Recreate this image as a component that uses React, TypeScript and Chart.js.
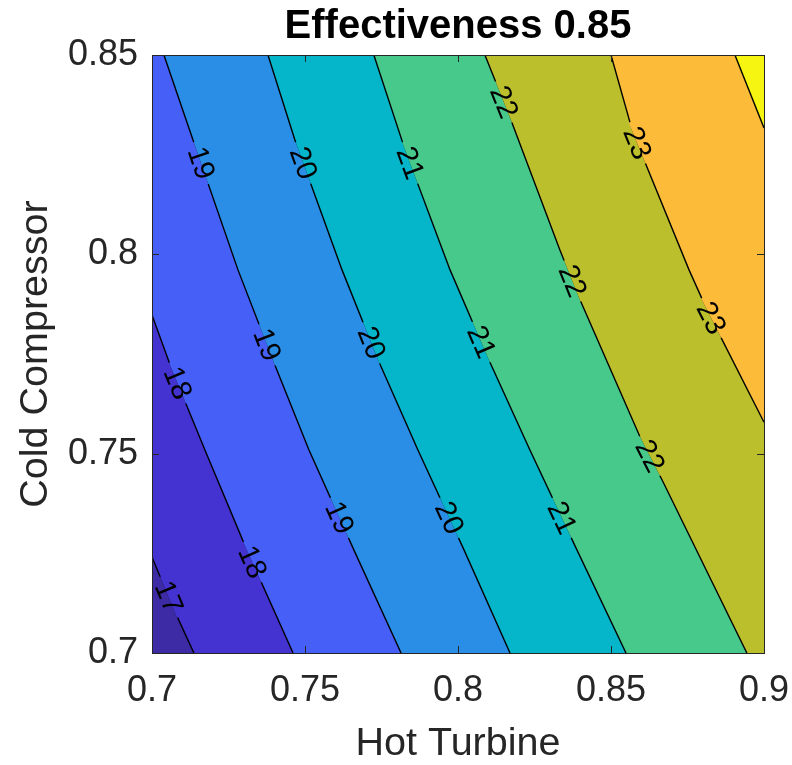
import React, { useEffect, useRef } from 'react';
import { Chart, registerables } from 'chart.js';

Chart.register(...registerables);

// ---------- data ----------
const X_MIN = 0.7;
const X_MAX = 0.9;
const Y_MIN = 0.7;
const Y_MAX = 0.85;

const X_TICKS = [0.7, 0.75, 0.8, 0.85, 0.9];
const X_TICK_LABELS = ['0.7', '0.75', '0.8', '0.85', '0.9'];
const Y_TICKS = [0.7, 0.75, 0.8, 0.85];
const Y_TICK_LABELS = ['0.7', '0.75', '0.8', '0.85'];

const TITLE = 'Effectiveness 0.85';
const X_TITLE = 'Hot Turbine';
const Y_TITLE = 'Cold Compressor';

const LEVELS = [17, 18, 19, 20, 21, 22, 23, 24];

// contour lines, [Hot Turbine, Cold Compressor]
const C17 = [[0.7, 0.7241], [0.7065, 0.712], [0.7137, 0.7]];
const C18 = [[0.7, 0.7848], [0.7062, 0.7717], [0.7173, 0.7509], [0.731, 0.7258], [0.7461, 0.7]];
const C19 = [[0.7039, 0.85], [0.7134, 0.8287], [0.7281, 0.7961], [0.7395, 0.7735], [0.7513, 0.7509], [0.766, 0.7258], [0.7814, 0.7]];
const C20 = [[0.7379, 0.85], [0.7467, 0.8287], [0.7621, 0.7961], [0.7739, 0.7735], [0.7869, 0.7509], [0.802, 0.7258], [0.817, 0.7]];
const C21 = [[0.7725, 0.85], [0.7827, 0.8262], [0.7974, 0.7961], [0.8101, 0.7735], [0.8235, 0.7509], [0.8389, 0.7258], [0.8549, 0.7]];
const C22 = [[0.8088, 0.85], [0.8173, 0.8337], [0.8333, 0.8011], [0.8389, 0.7903], [0.8595, 0.7542], [0.8667, 0.7434], [0.8944, 0.7]];
const C23 = [[0.85, 0.85], [0.8572, 0.8304], [0.8755, 0.7961], [0.8814, 0.786], [0.9, 0.7579]];
const C24 = [[0.8905, 0.85], [0.9, 0.8317]];
const CONTOURS = [C17, C18, C19, C20, C21, C22, C23, C24];

// band colours: index 0 = below 17, index k+1 = above LEVELS[k]
const BAND_COLORS = ['#3d2ba6', '#4433d0', '#465ff7', '#2b8ee6', '#05b6ca', '#47c98b', '#bbbf2c', '#fcbc3a', '#f6f411'];

// inline contour labels
const LABEL_LEVELS = [17, 18, 18, 19, 19, 19, 20, 20, 20, 21, 21, 21, 22, 22, 22, 23, 23];
const LABEL_Y = [0.714, 0.7677, 0.7228, 0.8229, 0.7773, 0.7339, 0.8229, 0.7778, 0.7339, 0.8229, 0.778, 0.7339, 0.8382, 0.7933, 0.7494, 0.8279, 0.784];

const FONT = "'Liberation Sans', Arial, Helvetica, sans-serif";
const AXIS_COLOR = '#262626';

type P = { x: number; y: number };

function toPoints(line: number[][]): P[] {
  return line.map(([x, y]) => ({ x, y }));
}

// region on the high-value (right) side of a contour line, closed along the frame
function rightRegion(line: number[][]): P[] {
  const pts = toPoints(line);
  const first = pts[0];
  const last = pts[pts.length - 1];
  if (last.y === Y_MIN) pts.push({ x: X_MAX, y: Y_MIN });
  pts.push({ x: X_MAX, y: Y_MAX });
  if (first.x === X_MIN) pts.push({ x: X_MIN, y: Y_MAX });
  return pts;
}

const framePlugin = {
  id: 'frame',
  afterDatasetsDraw(chart: any) {
    const { ctx, chartArea: a } = chart;
    const xs = chart.scales.x;
    const ys = chart.scales.y;
    const tl = 7;
    ctx.save();
    ctx.strokeStyle = AXIS_COLOR;
    ctx.lineWidth = 1;
    ctx.beginPath();
    X_TICKS.forEach((v) => {
      const px = Math.round(xs.getPixelForValue(v)) + 0.5;
      ctx.moveTo(px, a.bottom);
      ctx.lineTo(px, a.bottom - tl);
      ctx.moveTo(px, a.top);
      ctx.lineTo(px, a.top + tl);
    });
    Y_TICKS.forEach((v) => {
      const py = Math.round(ys.getPixelForValue(v)) + 0.5;
      ctx.moveTo(a.left, py);
      ctx.lineTo(a.left + tl, py);
      ctx.moveTo(a.right, py);
      ctx.lineTo(a.right - tl, py);
    });
    ctx.stroke();
    ctx.strokeRect(Math.round(a.left) + 0.5, Math.round(a.top) + 0.5, Math.round(a.right - a.left), Math.round(a.bottom - a.top));
    ctx.restore();
  },
};

const labelPlugin = {
  id: 'contourLabels',
  afterDatasetsDraw(chart: any) {
    const { ctx, chartArea: a } = chart;
    const xs = chart.scales.x;
    const ys = chart.scales.y;
    ctx.save();
    ctx.beginPath();
    ctx.rect(a.left, a.top, a.right - a.left, a.bottom - a.top);
    ctx.clip();
    ctx.font = `29px ${FONT}`;
    ctx.textAlign = 'center';
    ctx.textBaseline = 'middle';
    LABEL_LEVELS.forEach((level, i) => {
      const li = LEVELS.indexOf(level);
      const line = CONTOURS[li];
      const y = LABEL_Y[i];
      for (let j = 0; j < line.length - 1; j++) {
        const [x0, y0] = line[j];
        const [x1, y1] = line[j + 1];
        if (y0 === y1 || (y0 - y) * (y1 - y) > 0) continue;
        const t = (y - y0) / (y1 - y0);
        const x = x0 + t * (x1 - x0);
        const px = xs.getPixelForValue(x);
        const py = ys.getPixelForValue(y);
        const dx = xs.getPixelForValue(x1) - xs.getPixelForValue(x0);
        const dy = ys.getPixelForValue(y1) - ys.getPixelForValue(y0);
        let ang = Math.atan2(dy, dx);
        if (ang > Math.PI / 2) ang -= Math.PI;
        if (ang < -Math.PI / 2) ang += Math.PI;
        const text = String(level);
        const w = ctx.measureText(text).width;
        ctx.save();
        ctx.translate(px, py);
        ctx.rotate(ang);
        ctx.fillStyle = BAND_COLORS[li];
        ctx.fillRect(-w / 2 - 6, 0, w + 12, 3);
        ctx.fillStyle = BAND_COLORS[li + 1];
        ctx.fillRect(-w / 2 - 6, -3, w + 12, 3);
        ctx.fillStyle = '#000';
        ctx.fillText(text, 0, 1);
        ctx.restore();
        break;
      }
    });
    ctx.restore();
  },
};

export default function App() {
  const ref = useRef<HTMLCanvasElement | null>(null);

  useEffect(() => {
    document.body.style.margin = '0';
    const canvas = ref.current;
    if (!canvas) return;

    const datasets: any[] = [];
    // base rectangle (below lowest level)
    datasets.push({
      data: [
        { x: X_MIN, y: Y_MIN },
        { x: X_MAX, y: Y_MIN },
        { x: X_MAX, y: Y_MAX },
        { x: X_MIN, y: Y_MAX },
      ],
      showLine: true,
      fill: 'shape',
      backgroundColor: BAND_COLORS[0],
      borderColor: 'transparent',
      borderWidth: 0,
      pointRadius: 0,
      order: 200,
    });
    CONTOURS.forEach((line, k) => {
      datasets.push({
        data: rightRegion(line),
        showLine: true,
        fill: 'shape',
        backgroundColor: BAND_COLORS[k + 1],
        borderColor: 'transparent',
        borderWidth: 0,
        pointRadius: 0,
        order: 100 - k,
      });
    });
    CONTOURS.forEach((line) => {
      datasets.push({
        data: toPoints(line),
        showLine: true,
        fill: false,
        borderColor: '#000',
        borderWidth: 1.4,
        pointRadius: 0,
        order: 1,
      });
    });

    const chart = new Chart(canvas, {
      type: 'scatter',
      data: { datasets },
      plugins: [framePlugin, labelPlugin],
      options: {
        animation: false,
        responsive: false,
        events: [],
        layout: { padding: { top: 0, right: 28, bottom: 0, left: 0 } },
        plugins: {
          legend: { display: false },
          tooltip: { enabled: false },
          title: {
            display: true,
            text: TITLE,
            fullSize: false,
            color: '#000',
            font: { family: FONT, size: 40, weight: 'bold', lineHeight: 1 },
            padding: { top: 7, bottom: 8 },
          },
        },
        scales: {
          x: {
            type: 'linear',
            position: 'bottom',
            min: X_MIN,
            max: X_MAX,
            grid: { display: false, drawTicks: false },
            border: { display: false },
            afterBuildTicks: (s: any) => {
              s.ticks = X_TICKS.map((v) => ({ value: v }));
            },
            afterFit: (s: any) => {
              s.height = 112;
              s.paddingLeft = 0;
              s.paddingRight = 0;
            },
            ticks: {
              autoSkip: false,
              maxRotation: 0,
              padding: 16,
              color: AXIS_COLOR,
              font: { family: FONT, size: 36 },
              callback: (v: any) => X_TICK_LABELS[X_TICKS.findIndex((t) => Math.abs(t - v) < 1e-9)] ?? '',
            },
            title: {
              display: true,
              text: X_TITLE,
              color: AXIS_COLOR,
              font: { family: FONT, size: 39.5, lineHeight: 1 },
              padding: { top: 0, bottom: 1 },
            },
          },
          y: {
            type: 'linear',
            position: 'left',
            min: Y_MIN,
            max: Y_MAX,
            grid: { display: false, drawTicks: false },
            border: { display: false },
            afterBuildTicks: (s: any) => {
              s.ticks = Y_TICKS.map((v) => ({ value: v }));
            },
            afterFit: (s: any) => {
              s.width = 152;
              s.paddingTop = 0;
              s.paddingBottom = 0;
            },
            ticks: {
              autoSkip: false,
              padding: 14,
              color: AXIS_COLOR,
              font: { family: FONT, size: 36 },
              callback: (v: any) => Y_TICK_LABELS[Y_TICKS.findIndex((t) => Math.abs(t - v) < 1e-9)] ?? '',
            },
            title: {
              display: true,
              text: Y_TITLE,
              color: AXIS_COLOR,
              font: { family: FONT, size: 39.5, lineHeight: 1 },
              padding: { top: 16, bottom: 0 },
            },
          },
        },
      },
    });
    return () => chart.destroy();
  }, []);

  return (
    <div style={{ width: 792, height: 765 }}>
      <canvas ref={ref} width={792} height={765} style={{ display: 'block' }} />
    </div>
  );
}
